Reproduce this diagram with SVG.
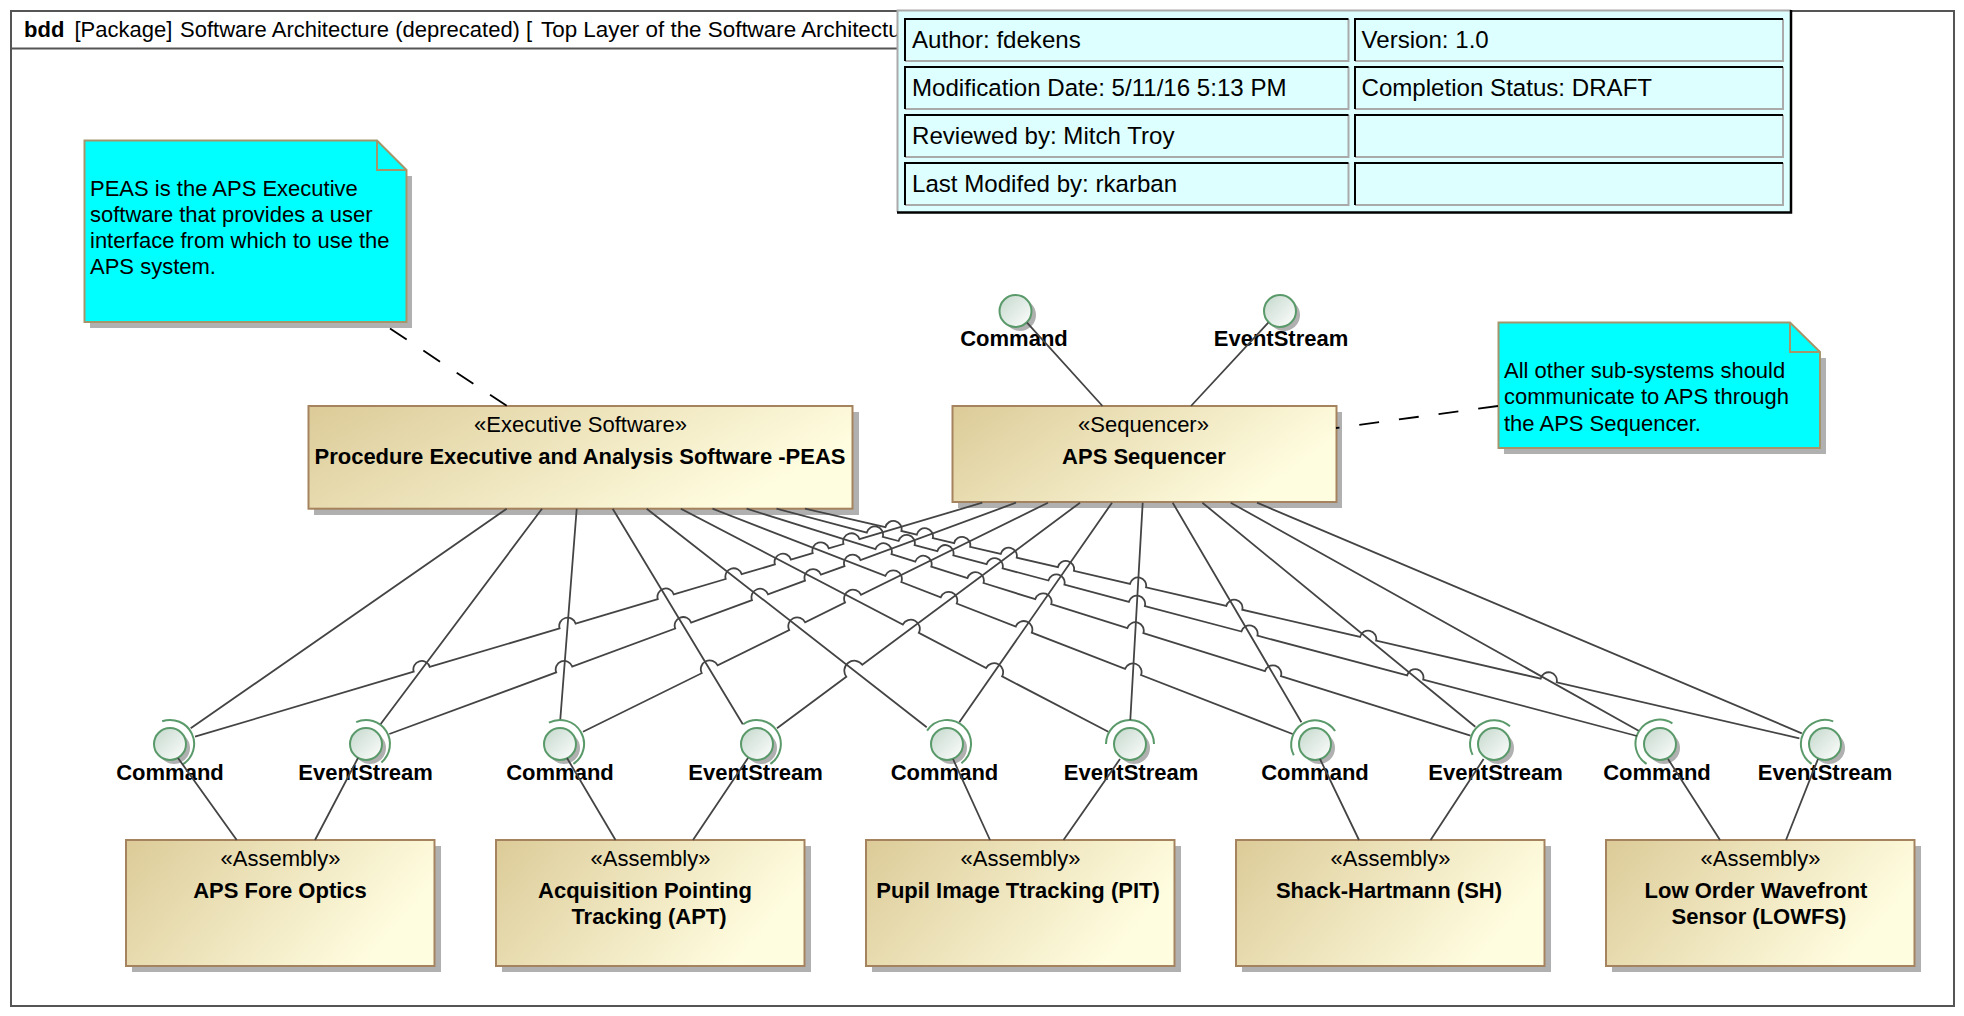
<svg xmlns="http://www.w3.org/2000/svg" width="1964" height="1016" viewBox="0 0 1964 1016">
<style>
text{font-family:"Liberation Sans",Arial,sans-serif;font-size:22px;fill:#000}
.b{font-weight:bold}
.m{text-anchor:middle}
.t{font-size:24.1px}
.frame{fill:#fff;stroke:#555;stroke-width:2}
.sh{fill:#b0b0b0}
.box{fill:url(#tan);stroke:#a5835f;stroke-width:2}
.note{fill:#0ff;stroke:#a5956a;stroke-width:2}
.fold{fill:none;stroke:#a5956a;stroke-width:2}
.c{fill:none;stroke:#444;stroke-width:1.8}
.d{fill:none;stroke:#000;stroke-width:1.8;stroke-dasharray:20 20}
.ball{fill:url(#ball);stroke:#5a9a6a;stroke-width:2}
.arc{fill:none;stroke:#5a9a6a;stroke-width:2}
.ct{fill:none;stroke:#000;stroke-width:2}
.cb{fill:none;stroke:#aaa;stroke-width:2}
</style>
<defs>
<linearGradient id="tan" x1="0" y1="0" x2="1" y2="0.35"><stop offset="0" stop-color="#dccb98"/><stop offset="1" stop-color="#fffde0"/></linearGradient>
<linearGradient id="ball" x1="0" y1="0" x2="1" y2="1"><stop offset="0" stop-color="#c4d8cc"/><stop offset="1" stop-color="#fff"/></linearGradient>
</defs>
<rect width="1964" height="1016" fill="#fff"/>
<g id="frame">
<rect class="frame" x="11" y="11" width="1943" height="995"/>
<path d="M11 48.500H897" fill="none" stroke="#555" stroke-width="2"/>
<text class="b" x="24" y="37">bdd</text>
<text x="74.500" y="37">[Package]</text>
<text x="180" y="37">Software Architecture (deprecated)</text>
<text x="526" y="37">[</text>
<text x="541" y="37" style="font-size:22.4px">Top Layer of the Software Architectu</text>
</g>
<g id="note-peas">
<path class="sh" d="M412 176V328H90V322H406V176Z"/>
<path class="note" d="M84.500 140.500H377L406.500 170V322H84.500Z"/>
<path class="fold" d="M377 140.500V170H406.500"/>
<text x="90" y="196">PEAS is the APS Executive</text>
<text x="90" y="222">software that provides a user</text>
<text x="90" y="248">interface from which to use the</text>
<text x="90" y="274">APS system.</text>
</g>
<g id="note-seq">
<path class="sh" d="M1826 358V454H1504V448H1820V358Z"/>
<path class="note" d="M1498.500 322.500H1790L1820 352V448H1498.500Z"/>
<path class="fold" d="M1790 322.500V352H1820"/>
<text x="1504" y="377.500">All other sub-systems should</text>
<text x="1504" y="403.500">communicate to APS through</text>
<text x="1504" y="430.500">the APS Sequencer.</text>
</g>
<g id="peas">
<rect class="sh" x="314" y="412" width="545" height="103"/>
<rect class="box" x="308.500" y="406" width="544" height="102.700"/>
<text class="m" x="580.500" y="432">«Executive Software»</text>
<text class="b m" x="580" y="463.500">Procedure Executive and Analysis Software -PEAS</text>
</g>
<g id="sequencer">
<rect class="sh" x="958" y="412" width="384" height="96"/>
<rect class="box" x="952.500" y="406" width="384" height="96"/>
<text class="m" x="1143.500" y="432">«Sequencer»</text>
<text class="b m" x="1144" y="463.500">APS Sequencer</text>
</g>
<g id="if-top-command">
<circle class="sh" cx="1020" cy="315" r="16"/>
<circle class="ball" cx="1015.500" cy="311" r="16"/>
<text class="b m" x="1014" y="346">Command</text>
</g>
<g id="if-top-event">
<circle class="sh" cx="1284" cy="315" r="16"/>
<circle class="ball" cx="1280" cy="311" r="16"/>
<text class="b m" x="1281" y="346">EventStream</text>
</g>
<g id="i1"><circle class="sh" cx="174" cy="748" r="16"/><circle class="ball" cx="170" cy="744" r="16"/><path class="arc" d="M162.200 721.300A24 24 0 0 1 182.700 764.400"/><text class="b m" x="170" y="780">Command</text></g>
<g id="i2"><circle class="sh" cx="370" cy="748" r="16"/><circle class="ball" cx="366" cy="744" r="16"/><path class="arc" d="M356.200 722.100A24 24 0 0 1 381.400 762.400"/><text class="b m" x="365.500" y="780">EventStream</text></g>
<g id="i3"><circle class="sh" cx="564" cy="748" r="16"/><circle class="ball" cx="560" cy="744" r="16"/><path class="arc" d="M548.900 722.700A24 24 0 0 1 573.400 763.900"/><text class="b m" x="560" y="780">Command</text></g>
<g id="i4"><circle class="sh" cx="761" cy="748" r="16"/><circle class="ball" cx="757" cy="744" r="16"/><path class="arc" d="M743.200 724.300A24 24 0 1 1 770.400 763.900"/><text class="b m" x="755.500" y="780">EventStream</text></g>
<g id="i5"><circle class="sh" cx="951" cy="748" r="16"/><circle class="ball" cx="947" cy="744" r="16"/><path class="arc" d="M927.100 730.600A24 24 0 1 1 961.400 763.200"/><text class="b m" x="944.500" y="780">Command</text></g>
<g id="i6"><circle class="sh" cx="1134" cy="748" r="16"/><circle class="ball" cx="1130" cy="744" r="16"/><path class="arc" d="M1106 744A24 24 0 0 1 1154 744"/><text class="b m" x="1131" y="780">EventStream</text></g>
<g id="i7"><circle class="sh" cx="1319" cy="748" r="16"/><circle class="ball" cx="1315" cy="744" r="16"/><path class="arc" d="M1293.800 755.300A24 24 0 0 1 1335.100 731"/><text class="b m" x="1315" y="780">Command</text></g>
<g id="i8"><circle class="sh" cx="1498" cy="748" r="16"/><circle class="ball" cx="1494" cy="744" r="16"/><path class="arc" d="M1472.600 754.900A24 24 0 0 1 1510 726.200"/><text class="b m" x="1495.500" y="780">EventStream</text></g>
<g id="i9"><circle class="sh" cx="1664" cy="748" r="16"/><circle class="ball" cx="1660" cy="744" r="16"/><path class="arc" d="M1646.600 763.900A24 24 0 0 1 1672.400 723.400"/><text class="b m" x="1657" y="780">Command</text></g>
<g id="i10"><circle class="sh" cx="1829" cy="748" r="16"/><circle class="ball" cx="1825" cy="744" r="16"/><path class="arc" d="M1811.600 763.900A24 24 0 0 1 1833.200 721.400"/><text class="b m" x="1825" y="780">EventStream</text></g>
<g id="a1"><rect class="sh" x="132" y="846" width="309" height="126"/><rect class="box" x="126" y="840" width="308.500" height="126"/><text class="m" x="280.500" y="866">«Assembly»</text><text class="b m" x="280" y="898">APS Fore Optics</text></g>
<g id="a2"><rect class="sh" x="502" y="846" width="309" height="126"/><rect class="box" x="496" y="840" width="308.500" height="126"/><text class="m" x="650.500" y="866">«Assembly»</text><text class="b m" x="645" y="898">Acquisition Pointing</text><text class="b m" x="649" y="924">Tracking (APT)</text></g>
<g id="a3"><rect class="sh" x="872" y="846" width="309" height="126"/><rect class="box" x="866" y="840" width="308.500" height="126"/><text class="m" x="1020.500" y="866">«Assembly»</text><text class="b m" x="1018" y="898">Pupil Image Ttracking (PIT)</text></g>
<g id="a4"><rect class="sh" x="1242" y="846" width="309" height="126"/><rect class="box" x="1236" y="840" width="308.500" height="126"/><text class="m" x="1390.500" y="866">«Assembly»</text><text class="b m" x="1389" y="898">Shack-Hartmann (SH)</text></g>
<g id="a5"><rect class="sh" x="1612" y="846" width="309" height="126"/><rect class="box" x="1606" y="840" width="308.500" height="126"/><text class="m" x="1760.500" y="866">«Assembly»</text><text class="b m" x="1756" y="898">Low Order Wavefront</text><text class="b m" x="1759" y="924">Sensor (LOWFS)</text></g>
<g id="connectors">
<path class="d" d="M390 328.500L507 406"/>
<path class="d" d="M1498 406L1336 428"/>
<path class="c" d="M1027 322.700L1102.500 406M1268.300 322.700L1191 406"/>
<path class="c" d="M178 758L236.700 840M358 758L315 840M567 758L615.500 840M748 758L693 840M953 759L990 840M1120 759L1063.500 840M1320 759L1359 840M1483.600 759L1430.600 840M1668 759L1720 840M1818 759L1786 840"/>
<path class="c" d="M506.700 508.700L190.700 728.300M542 508.700L380.700 724M576.700 508.700L560.300 719.300M612.700 508.700L742.800 724.300M646.700 508.700L926.700 727.300"/>
<path class="c" d="M680.800 508.700L902.800 624.500A8 8 0 0 1 918.800 632.900L986.100 668A8 8 0 0 1 1002.100 676.400L1108.300 731.700"/>
<path class="c" d="M712.500 508.700L885.300 575.800A8 8 0 0 1 901.300 582L940.700 597.300A8 8 0 0 1 956.700 603.500L1015.800 626.500A8 8 0 0 1 1031.800 632.700L1125 668.900A8 8 0 0 1 1141 675.100L1292.600 734"/>
<path class="c" d="M746.600 508.700L875.500 549.100A8 8 0 0 1 891.500 554.100L915.300 561.600A8 8 0 0 1 931.300 566.600L967.500 578A8 8 0 0 1 983.500 583L1035.200 599.200A8 8 0 0 1 1051.200 604.200L1127.400 628.100A8 8 0 0 1 1143.400 633.100L1264.900 671.200A8 8 0 0 1 1280.900 676.200L1470.500 735.700"/>
<path class="c" d="M776.500 508.700L866.800 532.600A8 8 0 0 1 882.800 536.800L898.600 541A8 8 0 0 1 914.600 545.200L937.300 551.200A8 8 0 0 1 953.300 555.400L986.600 564.200A8 8 0 0 1 1002.600 568.400L1048.400 580.500A8 8 0 0 1 1064.400 584.700L1128.900 601.800A8 8 0 0 1 1144.900 606L1241.400 631.500A8 8 0 0 1 1257.400 635.700L1407.200 675.300A8 8 0 0 1 1423.200 679.500L1637 736"/>
<path class="c" d="M805 508.700L885.400 527.200A8 8 0 0 1 901.400 531L916.800 534.600A8 8 0 0 1 932.800 538.200L954.100 543.200A8 8 0 0 1 970.100 546.900L1000.700 554A8 8 0 0 1 1016.700 557.700L1057.900 567.200A8 8 0 0 1 1073.900 570.900L1130 583.800A8 8 0 0 1 1146 587.400L1226.300 606A8 8 0 0 1 1242.300 609.700L1360.100 636.900A8 8 0 0 1 1376.100 640.600L1540.700 678.600A8 8 0 0 1 1556.700 682.300L1799.400 738.300"/>
<path class="c" d="M195 736.700L413.700 671.700A8 8 0 0 1 429.700 666.900L559.600 628.400A8 8 0 0 1 575.600 623.600L657.800 599.200A8 8 0 0 1 673.800 594.400L725.700 579A8 8 0 0 1 741.700 574.200L774.900 564.400A8 8 0 0 1 790.900 559.600L812.700 553.100A8 8 0 0 1 828.700 548.300L843.500 544A8 8 0 0 1 859.500 539.200L982.300 502.700"/>
<path class="c" d="M389.300 734L556.200 672.400A8 8 0 0 1 572.200 666.500L675.200 628.500A8 8 0 0 1 691.200 622.600L752 600.200A8 8 0 0 1 768 594.300L805 580.600A8 8 0 0 1 821 574.700L844.500 566.100A8 8 0 0 1 860.500 560.200L1016 502.700"/>
<path class="c" d="M583 731.700L701.700 673.200A8 8 0 0 1 717.700 665.400L789.200 630.100A8 8 0 0 1 805.200 622.300L845 602.500A8 8 0 0 1 861 594.700L1048 502.700"/>
<path class="c" d="M777 728.300L846.300 676.700A8 8 0 0 1 862.300 664.700L1080 502.700"/>
<path class="c" d="M1112 502.700L959.300 722.300M1142.700 502.700L1130.300 720M1172.700 502.700L1301.400 722.300M1202.400 502.700L1475.300 726.700M1230.700 502.700L1638.600 730.700M1257 502.700L1801.800 733.300"/>
</g>
<g id="table">
<rect x="897" y="10" width="894" height="202.500" fill="#dff"/>
<path d="M897.500 212V10.500H1791" fill="none" stroke="#aaa" stroke-width="2"/>
<path d="M897 212.500H1791V10" fill="none" stroke="#000" stroke-width="2.500"/>
<path class="cb" d="M905 61H1348.500V19M1355 61H1783V19M905 109H1348.500V67M1355 109H1783V67M905 157H1348.500V115M1355 157H1783V115M905 205H1348.500V163M1355 205H1783V163"/>
<path class="ct" d="M905 61V19H1348.500M1355 61V19H1783M905 109V67H1348.500M1355 109V67H1783M905 157V115H1348.500M1355 157V115H1783M905 205V163H1348.500M1355 205V163H1783"/>
<text class="t" x="912" y="47.500">Author: fdekens</text>
<text class="t" x="1361.500" y="47.500">Version: 1.0</text>
<text class="t" x="912" y="95.500">Modification Date: 5/11/16 5:13 PM</text>
<text class="t" x="1361.500" y="95.500">Completion Status: DRAFT</text>
<text class="t" x="912" y="143.500">Reviewed by: Mitch Troy</text>
<text class="t" x="912" y="191.500">Last Modifed by: rkarban</text>
</g>
</svg>
